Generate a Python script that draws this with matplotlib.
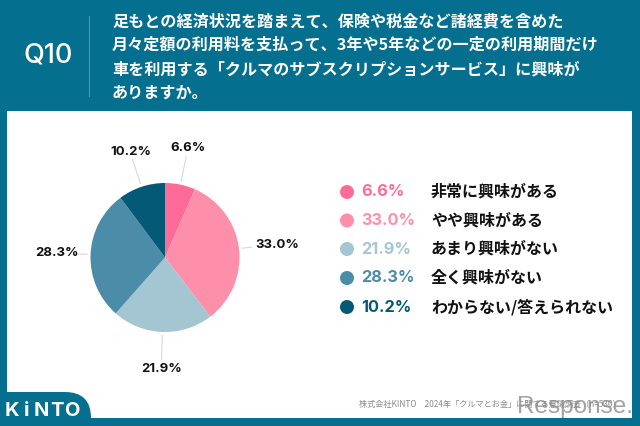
import numpy as np
import matplotlib
matplotlib.use('Agg')
import matplotlib.pyplot as plt
from matplotlib.patches import Circle, FancyBboxPatch, Rectangle

plt.rcParams['font.family'] = ['Noto Sans CJK JP', 'DejaVu Sans']

# data
categories = ['非常に興味がある', 'やや興味がある', 'あまり興味がない', '全く興味がない', 'わからない/答えられない']
values = [6.6, 33.0, 21.9, 28.3, 10.2]
colors = ['#FE6B98', '#FE8FAA', '#A4C6D2', '#4B8CA8', '#045A76']
question = [
    '足もとの経済状況を踏まえて、保険や税金など諸経費を含めた',
    '月々定額の利用料を支払って、3年や5年などの一定の利用期間だけ',
    '車を利用する「クルマのサブスクリプションサービス」に興味が',
    'ありますか。',
]
footer = '株式会社KINTO　2024年「クルマとお金」に関する意識調査（n=530）'

BAND = '#046F8E'
CX, CY, R = 165, 257.5, 74.5
LATIN = ['Inter', 'DejaVu Sans']

# label positions around the pie, leader end radius
label_pos = [(188, 148), (277, 244.5), (162, 369.5), (57, 253.5), (131, 152)]
leader_end = [103, 87, 102, 87, 103]

fig = plt.figure(figsize=(6.4, 4.26), dpi=100, facecolor=BAND)
ax = fig.add_axes([0, 0, 1, 1])

# white panel and logo tab
ax.add_patch(Rectangle((7, 111), 625, 307, fc='white', ec='none', zorder=0))
ax.add_patch(FancyBboxPatch((-40, 392), 131, 60, boxstyle='round,pad=0,rounding_size=26',
                            fc=BAND, ec='none', zorder=0.5))

# y axis is flipped, so angles grow clockwise on screen
ax.pie(values, colors=colors, center=(CX, CY), radius=R, startangle=-90,
       wedgeprops={'linewidth': 0})
ax.set_xlim(0, 640)
ax.set_ylim(426, 0)
ax.axis('off')

# leaders and pie labels
cum = np.cumsum([0] + values[:-1])
for i, v in enumerate(values):
    mid = np.deg2rad((cum[i] + v / 2) * 3.6)
    dx, dy = np.sin(mid), -np.cos(mid)
    ax.plot([CX + 78 * dx, CX + leader_end[i] * dx], [CY + 78 * dy, CY + leader_end[i] * dy],
            color='#D8D8D8', lw=0.8)
    ax.text(label_pos[i][0], label_pos[i][1], f'{v:.1f}%', ha='center', va='center',
            fontsize=9.5, color='#111111', fontweight='bold', family=LATIN)

# header
ax.text(48.5, 56, 'Q10', color='white', fontsize=19.5, ha='center', va='center',
        fontweight='medium', family=LATIN)
ax.plot([89, 89], [16, 96], color='#4F9AB0', lw=0.8)
for y, line in zip([21, 45, 69, 92.5], question):
    ax.text(112, y, line, color='white', fontsize=11.6, fontweight='bold', ha='left', va='center')

# legend
legend_y = [192, 220.5, 249, 278, 307]
for y, v, c, name in zip(legend_y, values, colors, categories):
    ax.add_patch(Circle((347, y), 7, fc=c, ec='none'))
    ax.text(361.5, y, f'{v:.1f}%', color=c, fontsize=11.8, ha='left', va='center',
            fontweight='bold', family=LATIN)
    ax.text(431, y, name, color='#111111', fontsize=11.5, ha='left', va='center', fontweight='bold')

# footer, watermark, logo
ax.text(359, 404, footer, color='#8A8A8A', fontsize=5.9, ha='left', va='center')
ax.text(517, 407, 'Response.', color='#8C8C8C', alpha=0.8, fontsize=17.5, ha='left', va='center',
        family=['Liberation Sans', 'DejaVu Sans'])
for x, ch in zip([12, 27, 41, 57, 72], 'KiNTO'):
    ax.text(x, 411, ch, color='white', fontsize=14.5, fontweight='bold', ha='center', va='center',
            family=LATIN)

fig.savefig('out.png', dpi=100, facecolor=BAND)
